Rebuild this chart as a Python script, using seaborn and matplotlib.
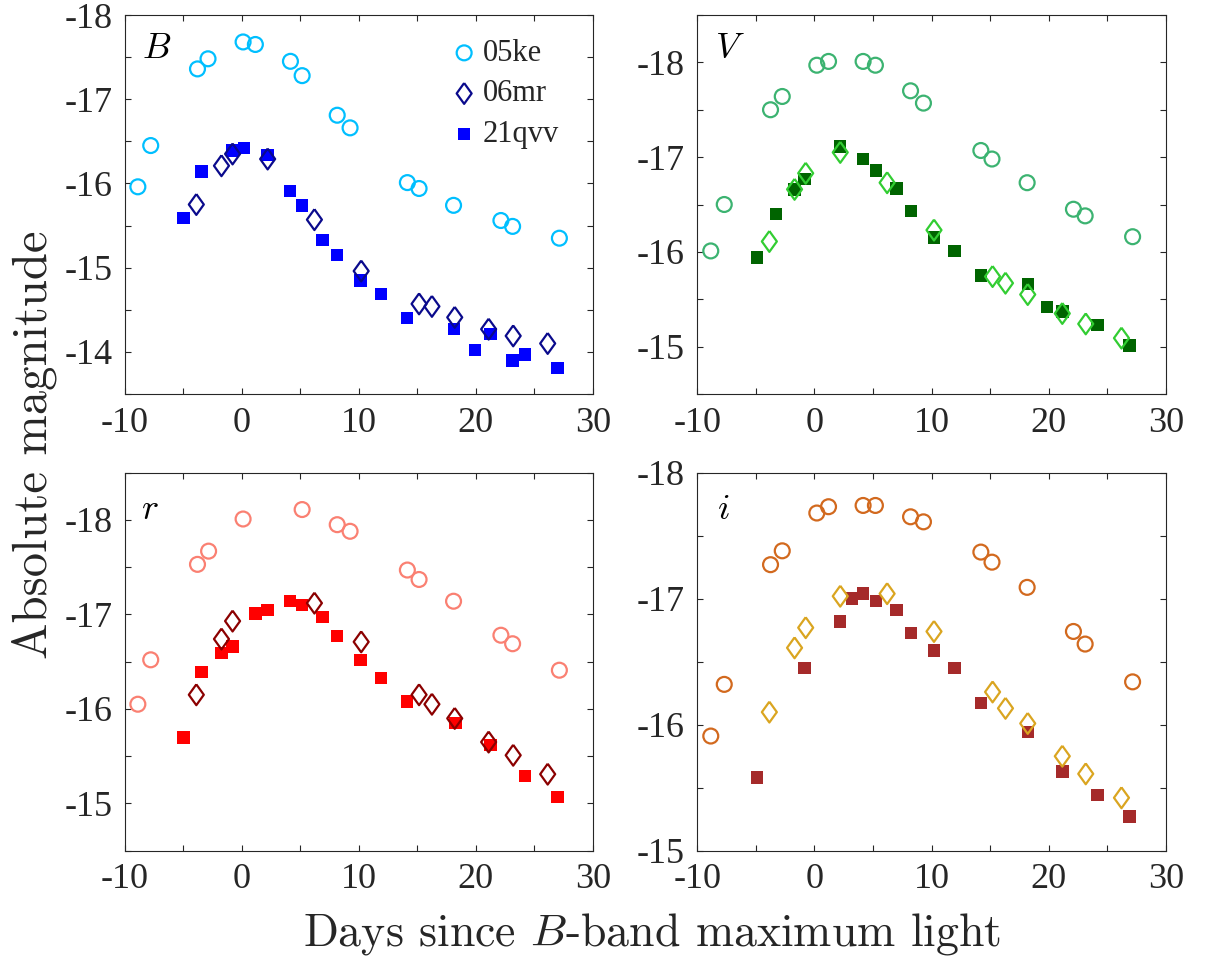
import matplotlib
matplotlib.use("Agg")
import matplotlib.pyplot as plt
import seaborn as sns
import numpy as np
from matplotlib.ticker import MultipleLocator, FormatStrFormatter

# ---------------- data ----------------
# B band
ke_B_t = [-8.9, -7.8, -3.8, -2.9, 0.1, 1.15, 4.15, 5.15, 8.15, 9.25, 14.15, 15.15, 18.1, 22.15, 23.15, 27.15]
ke_B_m = [-15.96, -16.45, -17.36, -17.48, -17.68, -17.65, -17.45, -17.28, -16.81, -16.66, -16.01, -15.94, -15.74, -15.56, -15.49, -15.35]
mr_B_t = [-3.9, -1.75, -0.8, 2.2, 6.2, 10.2, 15.15, 16.25, 18.2, 21.1, 23.2, 26.15]
mr_B_m = [-15.75, -16.21, -16.35, -16.29, -15.57, -14.96, -14.57, -14.54, -14.41, -14.27, -14.19, -14.10]
qvv_B_t = [-5.0, -3.45, -0.8, 0.2, 2.2, 4.1, 5.15, 6.9, 8.15, 10.15, 11.9, 14.1, 18.15, 19.95, 21.25, 23.15, 24.2, 27.0]
qvv_B_m = [-15.59, -16.14, -16.39, -16.42, -16.34, -15.91, -15.74, -15.33, -15.15, -14.85, -14.69, -14.40, -14.27, -14.02, -14.21, -13.90, -13.97, -13.81]

# V band
ke_V_t = [-8.85, -7.7, -3.75, -2.75, 0.2, 1.2, 4.15, 5.2, 8.2, 9.3, 14.2, 15.15, 18.15, 22.1, 23.1, 27.15]
ke_V_m = [-16.01, -16.50, -17.50, -17.64, -17.97, -18.01, -18.01, -17.97, -17.70, -17.57, -17.07, -16.98, -16.73, -16.45, -16.38, -16.16]
mr_V_t = [-3.85, -1.7, -0.75, 2.2, 6.2, 10.2, 15.2, 16.3, 18.2, 21.15, 23.15, 26.2]
mr_V_m = [-16.11, -16.66, -16.83, -17.05, -16.73, -16.23, -15.74, -15.67, -15.55, -15.35, -15.24, -15.09]
qvv_V_t = [-4.9, -3.3, -1.7, -0.85, 2.2, 4.15, 5.25, 7.0, 8.25, 10.2, 11.95, 14.2, 18.2, 19.85, 21.15, 24.15, 26.9]
qvv_V_m = [-15.94, -16.40, -16.66, -16.77, -17.11, -16.98, -16.86, -16.67, -16.43, -16.15, -16.01, -15.75, -15.66, -15.42, -15.37, -15.23, -15.01]

# r band
ke_r_t = [-8.9, -7.8, -3.8, -2.85, 0.1, 5.15, 8.15, 9.25, 14.15, 15.15, 18.1, 22.15, 23.15, 27.15]
ke_r_m = [-16.05, -16.52, -17.53, -17.67, -18.01, -18.11, -17.95, -17.88, -17.47, -17.37, -17.14, -16.78, -16.69, -16.41]
mr_r_t = [-3.9, -1.75, -0.8, 6.2, 10.2, 15.15, 16.25, 18.2, 21.1, 23.2, 26.15]
mr_r_m = [-16.15, -16.74, -16.93, -17.12, -16.71, -16.15, -16.05, -15.90, -15.65, -15.51, -15.31]
qvv_r_t = [-5.0, -3.45, -1.75, -0.8, 1.15, 2.2, 4.1, 5.15, 6.9, 8.15, 10.15, 11.9, 14.1, 18.25, 21.25, 24.2, 27.0]
qvv_r_m = [-15.70, -16.39, -16.59, -16.66, -17.01, -17.05, -17.14, -17.10, -16.97, -16.77, -16.52, -16.33, -16.08, -15.85, -15.62, -15.29, -15.07]

# i band
ke_i_t = [-8.85, -7.7, -3.75, -2.75, 0.2, 1.2, 4.15, 5.2, 8.2, 9.3, 14.2, 15.15, 18.15, 22.1, 23.1, 27.15]
ke_i_m = [-15.91, -16.32, -17.27, -17.38, -17.68, -17.73, -17.74, -17.74, -17.65, -17.61, -17.37, -17.29, -17.09, -16.74, -16.64, -16.34]
mr_i_t = [-3.85, -1.7, -0.75, 2.2, 6.2, 10.2, 15.2, 16.3, 18.2, 21.15, 23.15, 26.2]
mr_i_m = [-16.10, -16.61, -16.77, -17.02, -17.04, -16.74, -16.26, -16.13, -16.01, -15.75, -15.61, -15.42]
qvv_i_t = [-4.9, -0.85, 2.2, 3.2, 4.15, 5.25, 7.0, 8.25, 10.2, 11.95, 14.2, 18.2, 21.15, 24.15, 26.9]
qvv_i_m = [-15.58, -16.45, -16.82, -17.00, -17.04, -16.98, -16.91, -16.73, -16.59, -16.45, -16.17, -15.94, -15.63, -15.44, -15.27]

names = ["05ke", "06mr", "21qvv"]
band_labels = ["B", "V", "r", "i"]

# ---------------- style ----------------
sns.set_style("white")
plt.rcParams["font.family"] = ["Liberation Serif", "DejaVu Serif"]
plt.rcParams["mathtext.fontset"] = "cm"
plt.rcParams["axes.unicode_minus"] = False

W, H = 1208, 957
fig = plt.figure(figsize=(W / 100, H / 100), dpi=100)


def frac(left, top, right, bottom):
    return [left / W, 1 - bottom / H, (right - left) / W, (bottom - top) / H]


panels = [
    dict(pos=frac(125, 15, 592.7, 394), ylim=(-13.5, -18), data=(ke_B_t, ke_B_m, mr_B_t, mr_B_m, qvv_B_t, qvv_B_m),
         colors=("#00BFFF", "#0A0A8C", "#0000FF"), lab=(0.068, 0.908)),
    dict(pos=frac(697.3, 15, 1166, 394), ylim=(-14.5, -18.5), data=(ke_V_t, ke_V_m, mr_V_t, mr_V_m, qvv_V_t, qvv_V_m),
         colors=("#3CB371", "#32CD32", "#006400"), lab=(0.070, 0.908)),
    dict(pos=frac(125, 472.7, 592.7, 850.7), ylim=(-14.5, -18.5), data=(ke_r_t, ke_r_m, mr_r_t, mr_r_m, qvv_r_t, qvv_r_m),
         colors=("#FA8072", "#8B0000", "#FF0000"), lab=(0.053, 0.90)),
    dict(pos=frac(697.3, 472.7, 1166, 850.7), ylim=(-15, -18), data=(ke_i_t, ke_i_m, mr_i_t, mr_i_m, qvv_i_t, qvv_i_m),
         colors=("#D2691E", "#DAA520", "#A52A2A"), lab=(0.055, 0.90)),
]

diamond = [(0, 1), (0.72, 0), (0, -1), (-0.72, 0), (0, 1)]
frame_col = "#262626"

for k, p in enumerate(panels):
    ax = fig.add_axes(p["pos"])
    kt, km, mt, mm, qt, qm = p["data"]
    c_ke, c_mr, c_q = p["colors"]
    sns.scatterplot(x=kt, y=km, ax=ax, marker="o", s=115, color=c_ke,
                    facecolor="none", edgecolor=c_ke, linewidth=1.6, label=names[0], zorder=3)
    sns.scatterplot(x=qt, y=qm, ax=ax, marker="s", s=80, color=c_q,
                    edgecolor="none", linewidth=0, label=names[2], zorder=4)
    sns.scatterplot(x=mt, y=mm, ax=ax, marker=diamond, s=225, color=c_mr,
                    facecolor="none", edgecolor=c_mr, linewidth=1.6, label=names[1], zorder=5)

    ax.set_xlim(-10, 30)
    ax.set_ylim(*p["ylim"])
    ax.xaxis.set_major_locator(MultipleLocator(10))
    ax.xaxis.set_minor_locator(MultipleLocator(5))
    ax.yaxis.set_major_locator(MultipleLocator(1))
    ax.yaxis.set_minor_locator(MultipleLocator(0.5))
    ax.xaxis.set_major_formatter(FormatStrFormatter("%d"))
    ax.yaxis.set_major_formatter(FormatStrFormatter("%d"))
    ax.tick_params(which="both", direction="in", top=True, right=True, bottom=True, left=True,
                   length=4, width=0.8, color=frame_col)
    ax.tick_params(which="major", labelsize=26, pad=9, labelcolor=frame_col)
    for sp in ax.spines.values():
        sp.set_color(frame_col)
        sp.set_linewidth(0.8)
    ax.set_xlabel("")
    ax.set_ylabel("")
    ax.text(p["lab"][0], p["lab"][1], "$" + band_labels[k] + "$", transform=ax.transAxes,
            fontsize=26, ha="center", va="center", color="black")

    if k == 0:
        handles, labels = ax.get_legend_handles_labels()
        order = [labels.index(n) for n in names]
        ax.legend([handles[i] for i in order], [labels[i] for i in order],
                  loc="upper left", bbox_to_anchor=(0.699, 0.937), frameon=False,
                  fontsize=22, handlelength=0.8, handletextpad=0.2, labelspacing=0.38,
                  borderpad=0, borderaxespad=0)
    else:
        lg = ax.get_legend()
        if lg is not None:
            lg.remove()

fig.text(0.54, 0.024, r"Days since $B$-band maximum light", fontsize=33, family="cmr10",
         ha="center", va="center", color=frame_col)
fig.text(0.028, 0.535, "Absolute magnitude", fontsize=35, family="cmr10", rotation=90,
         ha="center", va="center", color=frame_col)

fig.savefig("out.png", dpi=100)
